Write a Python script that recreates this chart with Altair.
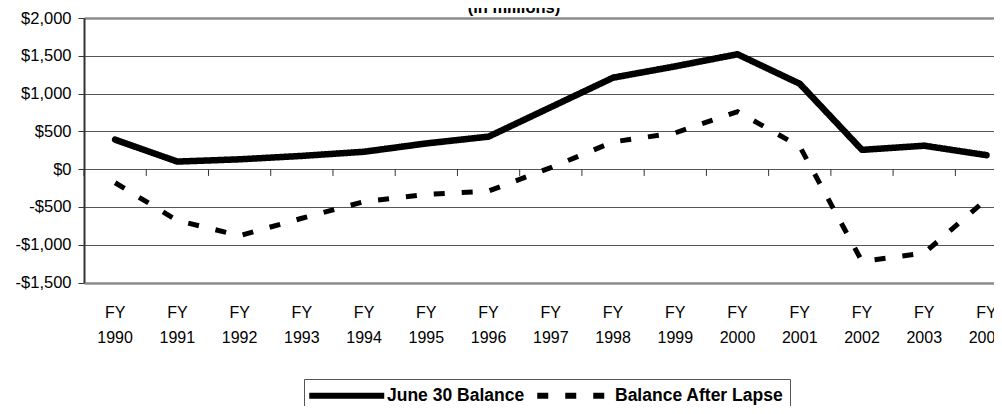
import altair as alt
import pandas as pd

years = ["FY 1990", "FY 1991", "FY 1992", "FY 1993", "FY 1994", "FY 1995", "FY 1996",
         "FY 1997", "FY 1998", "FY 1999", "FY 2000", "FY 2001", "FY 2002", "FY 2003", "FY 2004"]
june30_balance = [390, 100, 130, 175, 230, 340, 430, 820, 1210, 1360, 1520, 1130, 255, 310, 185]
after_lapse = [-180, -680, -880, -650, -430, -335, -290, 20, 360, 480, 760, 300, -1220, -1110, -400]
series_names = ["June 30 Balance", "Balance After Lapse"]
y_ticks = [-1500, -1000, -500, 0, 500, 1000, 1500, 2000]
tick_top, tick_bottom = 0, -90   # category tick marks hanging below the zero line

df = pd.DataFrame({
    "year": years + years,
    "series": [series_names[0]] * len(years) + [series_names[1]] * len(years),
    "value": june30_balance + after_lapse,
})
ticks_df = pd.DataFrame({
    "year": years,
    "top": [tick_top] * len(years),
    "bottom": [tick_bottom] * len(years),
})

FONT = "Liberation Sans, Arial, sans-serif"

xscale = alt.Scale(type="band", domain=years, range=[0, 933.6], paddingInner=0, paddingOuter=0)
yscale = alt.Scale(domain=[-1500, 2000], nice=False, zero=False)
dash_scale = alt.Scale(domain=series_names, range=[[1, 0], [11, 17]])

frame_test = "datum.value == 2000 || datum.value == -1500"
yaxis = alt.Axis(
    title=None, values=y_ticks,
    labelExpr="(datum.value < 0 ? '-' : '') + '$' + format(abs(datum.value), ',')",
    labelFont=FONT, labelFontSize=16.5, labelColor="#000", labelPadding=7,
    domainColor="#333", domainWidth=2, tickColor="#333", tickSize=6,
    grid=True,
    gridColor={"condition": {"test": frame_test, "value": "#8c8c8c"}, "value": "#555"},
    gridWidth={"condition": {"test": frame_test, "value": 2.5}, "value": 1},
)

label_axis = alt.Axis(
    title=None, orient="bottom", domain=False, ticks=False, grid=False, labelAngle=0,
    labelFont=FONT, labelFontSize=16, labelColor="#000",
    labelExpr="split(datum.label, ' ')", labelLineHeight=25, labelPadding=22,
    labelOverlap=False,
)

legend = alt.Legend(
    title=None, orient="none", legendX=220, legendY=361, direction="horizontal",
    symbolType="M-1.5,0H8.5", symbolSize=225, symbolStrokeWidth=6, symbolStrokeColor="black",
    labelFont=FONT, labelFontSize=17.5, labelFontWeight="bold", labelColor="black",
    labelLimit=400,
    strokeColor="#555", fillColor="white", padding=6, columnPadding=0, labelOffset=56,
)

base = alt.Chart(df).encode(
    y=alt.Y("value:Q", scale=yscale, axis=yaxis),
    strokeDash=alt.StrokeDash("series:N", scale=dash_scale, legend=legend),
)

solid = base.transform_filter(alt.datum.series == series_names[0]).mark_line(
    color="black", strokeWidth=6.5, strokeCap="round", strokeJoin="round"
).encode(x=alt.X("year:N", scale=xscale, axis=label_axis, bandPosition=0.5))

dashed = base.transform_filter(alt.datum.series == series_names[1]).mark_line(
    color="black", strokeWidth=5, strokeCap="butt", strokeJoin="miter"
).encode(x=alt.X("year:N", scale=xscale, axis=label_axis, bandPosition=0.5))

zero_ticks = alt.Chart(ticks_df).mark_rule(color="#333", strokeWidth=1).encode(
    x=alt.X("year:N", scale=xscale, axis=label_axis, bandPosition=0),
    y=alt.Y("top:Q", scale=yscale, axis=yaxis),
    y2=alt.Y2("bottom:Q"),
)

chart = alt.layer(zero_ticks, solid, dashed).properties(
    width=910, height=264.5,
    title=alt.TitleParams("(in millions)", font=FONT, fontSize=16.5, fontWeight="bold",
                          color="black", anchor="middle", frame="group", dx=-25, dy=10,
                          offset=4),
    autosize=alt.AutoSizeParams(type="none"),
    padding={"left": 76, "top": 10, "right": 0, "bottom": 123},
).configure_view(stroke=None).configure(background="white")

chart.save("out.html", embed_options={"renderer": "svg", "actions": False})
